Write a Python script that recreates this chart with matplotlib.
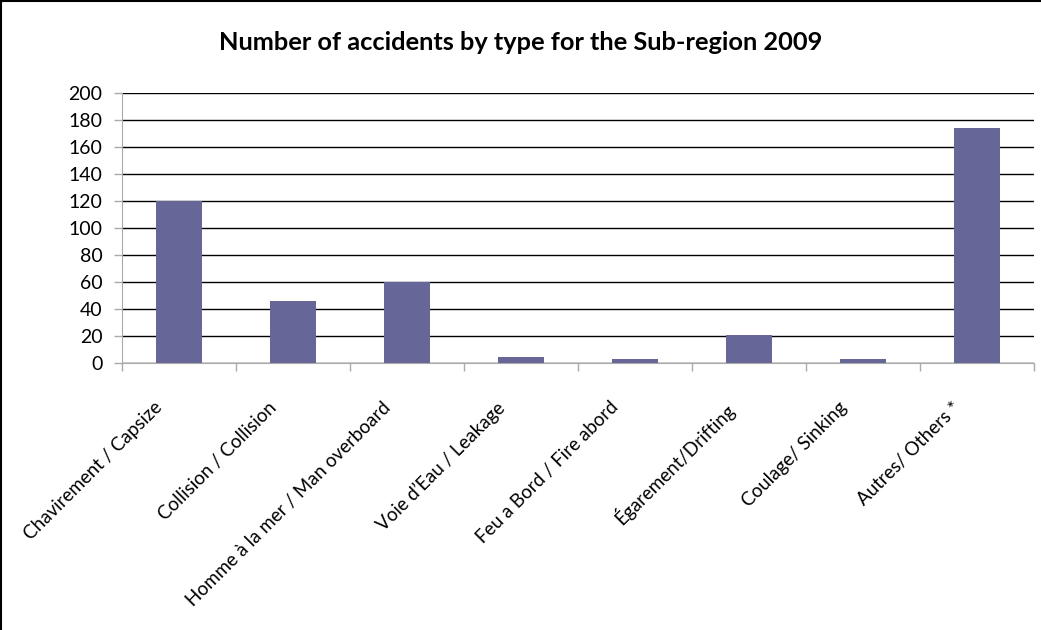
import matplotlib
matplotlib.use("Agg")
import matplotlib.pyplot as plt
from matplotlib.lines import Line2D
import numpy as np

categories = [
    "Chavirement / Capsize",
    "Collision / Collision",
    "Homme à la mer / Man overboard",
    "Voie d’Eau / Leakage",
    "Feu a Bord / Fire abord",
    "Égarement/Drifting",
    "Coulage/ Sinking",
    "Autres/ Others *",
]
accidents = [120, 46, 60, 5, 3, 21, 3, 174]
y_ticks = [0, 20, 40, 60, 80, 100, 120, 140, 160, 180, 200]

plt.rcParams["font.family"] = ["Lato", "DejaVu Sans"]

fig = plt.figure(figsize=(10.41, 6.30), dpi=100)
ax = fig.add_axes([122 / 1041, 1 - 363.5 / 630, (1034 - 122) / 1041, (363.5 - 93) / 630])

x = np.arange(len(categories))
ax.bar(x, accidents, width=0.41, color="#666699", zorder=3)

ax.set_xlim(-0.5, len(categories) - 0.5)
ax.set_ylim(0, 200)
ax.set_yticks(y_ticks)
ax.set_yticklabels([str(v) for v in y_ticks], fontsize=14)
ax.yaxis.grid(True, color="black", linewidth=1.0, zorder=1)
ax.set_axisbelow(True)

# category ticks sit on the boundaries between groups
ax.set_xticks(np.arange(len(categories) + 1) - 0.5)
ax.set_xticklabels([])
ax.tick_params(axis="x", length=6, color="#aaaaaa", width=1)
ax.tick_params(axis="y", length=6, color="#aaaaaa", width=1, pad=8)

for i, lab in enumerate(categories):
    ax.text(i - 0.22, -26, lab, rotation=45, ha="right", va="top",
            rotation_mode="anchor", fontsize=13.5, transform=ax.transData)

for s in ["top", "right"]:
    ax.spines[s].set_visible(False)
ax.spines["left"].set_color("#aaaaaa")
ax.spines["bottom"].set_color("#aaaaaa")

fig.text(0.5, 1 - 42 / 630, "Number of accidents by type for the Sub-region 2009",
         ha="center", va="center", fontsize=18.3, fontweight="bold")

# chart frame
fig.add_artist(Line2D([0.0008, 0.0008], [0, 1], transform=fig.transFigure, color="black", linewidth=1.5))
fig.add_artist(Line2D([0, 1], [0.998, 0.998], transform=fig.transFigure, color="black", linewidth=1.5))

fig.savefig("out.png", dpi=100)
